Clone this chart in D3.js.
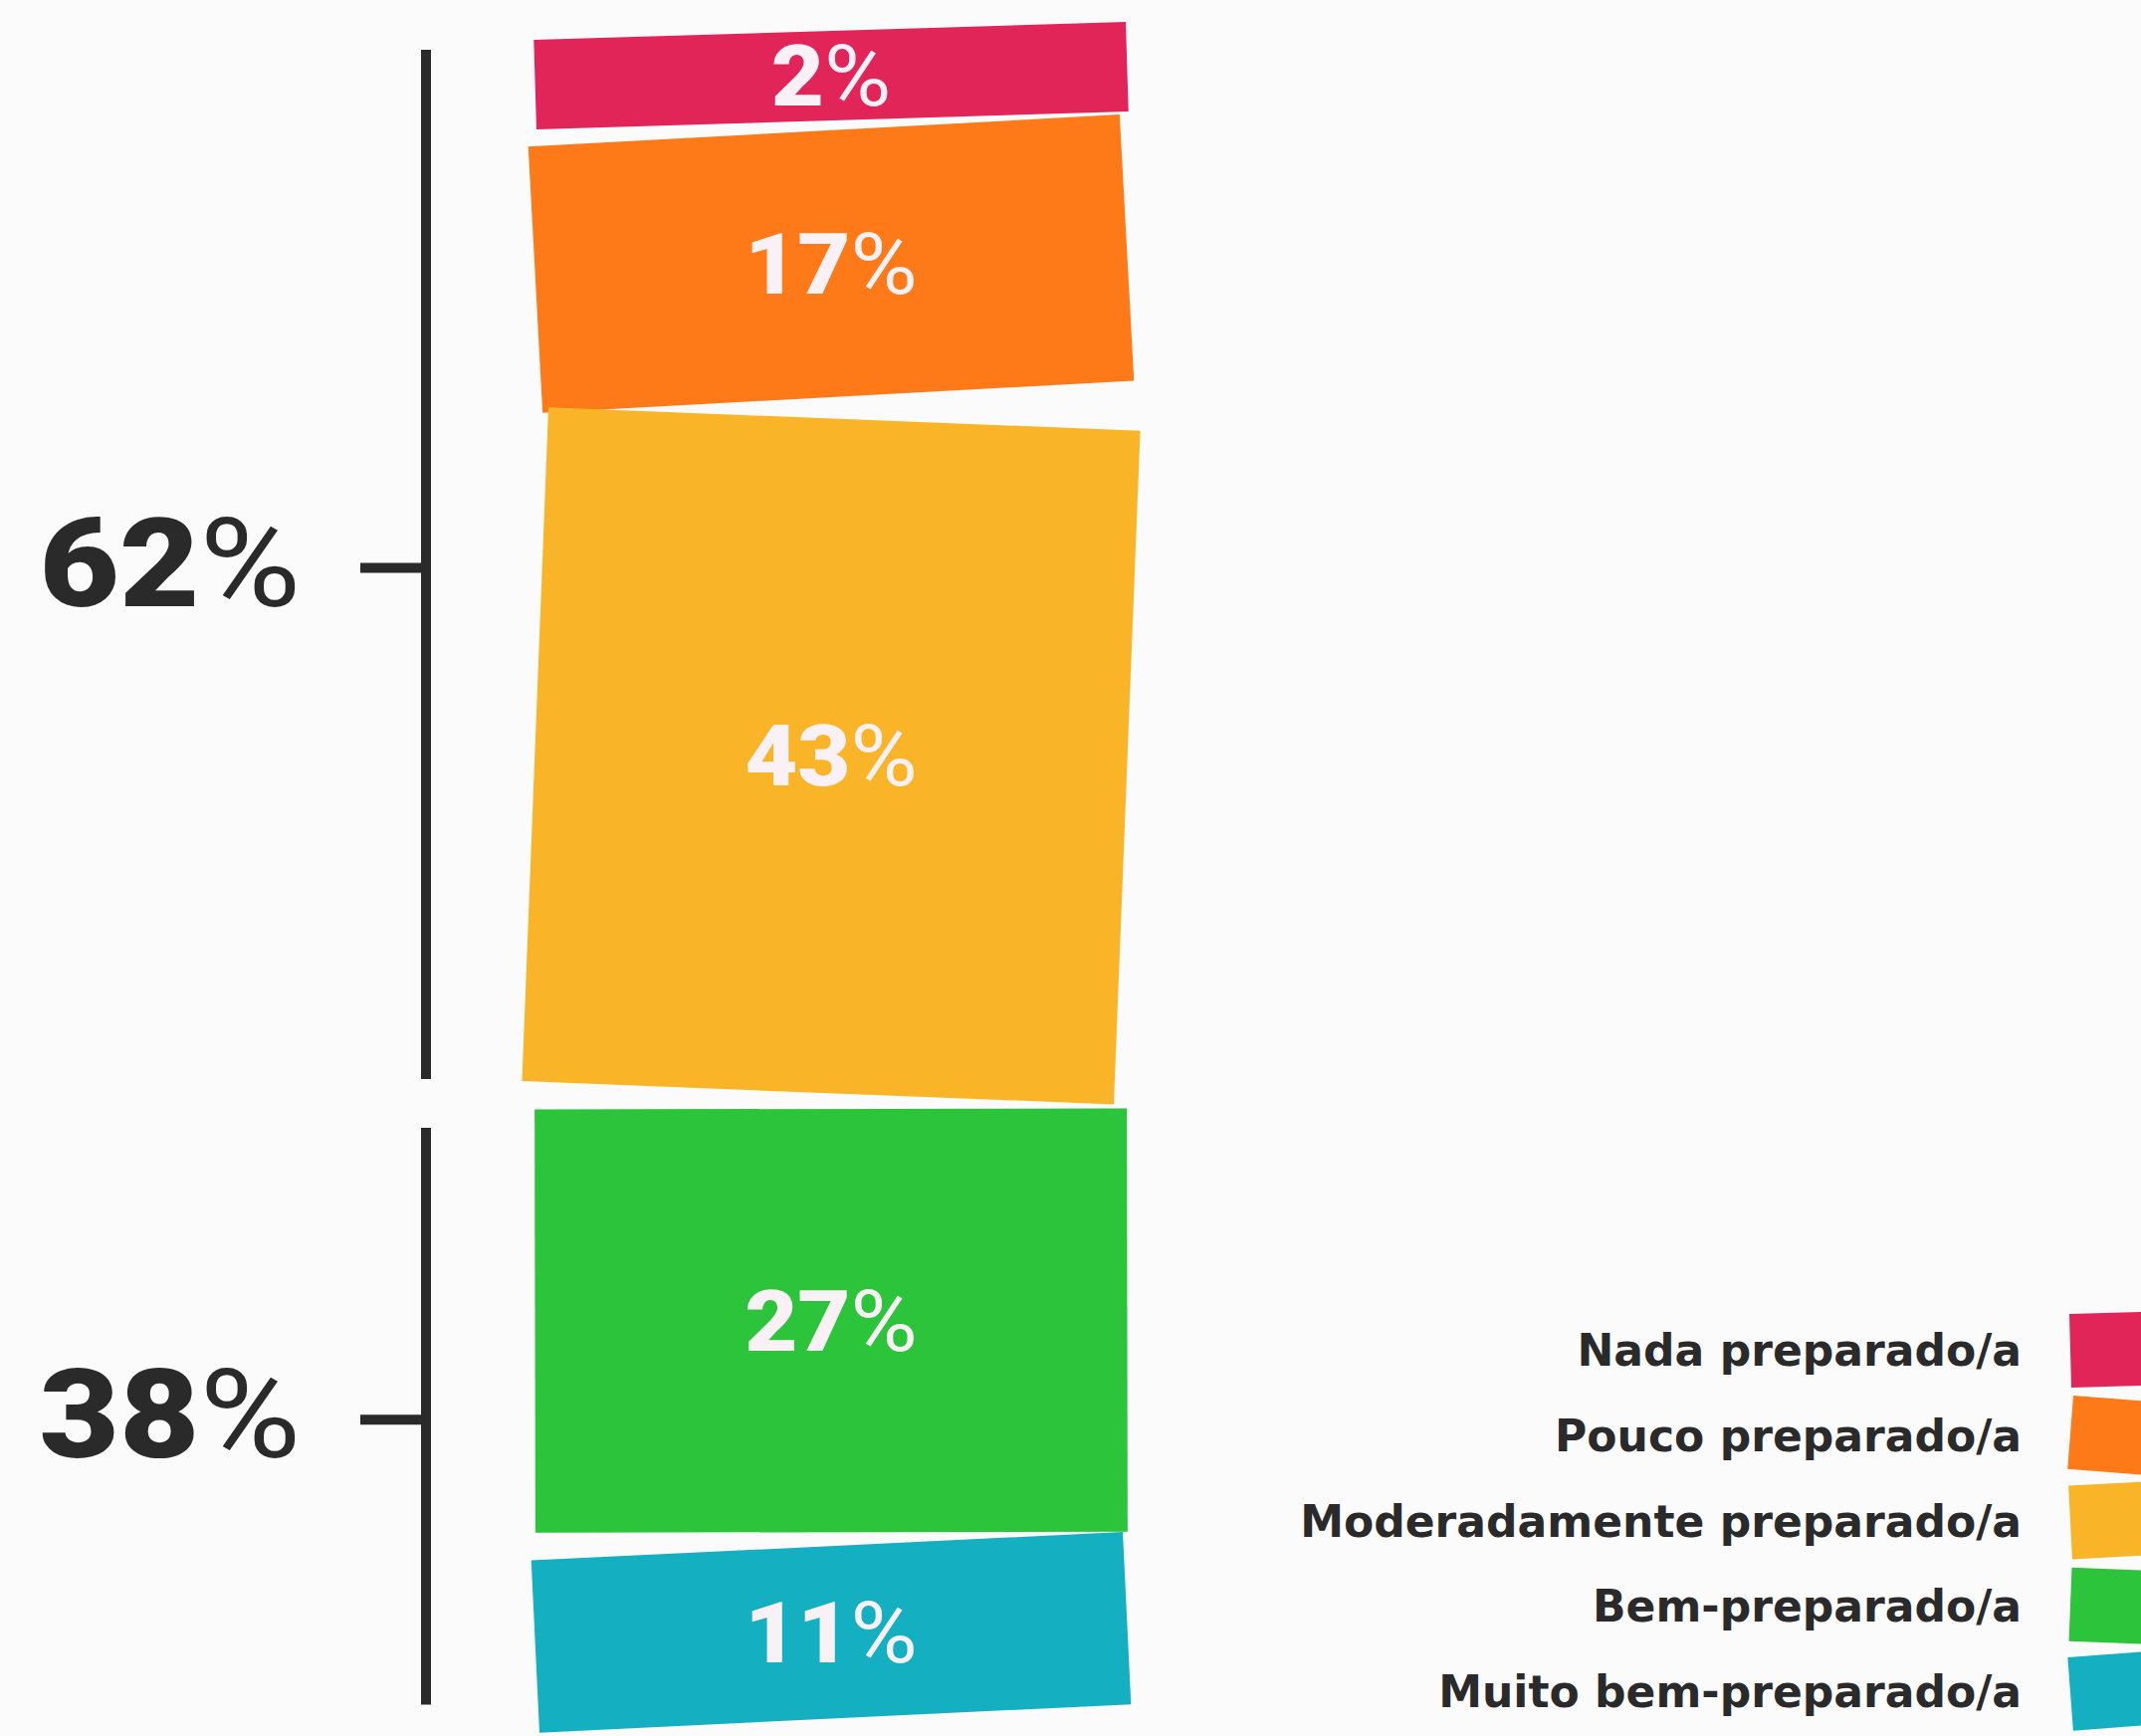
<!DOCTYPE html>
<html lang="pt">

<head>
  <meta charset="UTF-8">
  <title>Preparação</title>
  <style>
    body { margin: 0; background: #fbfbfb; }
  </style>
</head>

<body>
  <svg id="svg" width="2151" height="1744"></svg>

  <script src="https://d3js.org/d3.v7.min.js"></script>
  <script>
    // data
    const categories = ['Nada preparado/a', 'Pouco preparado/a', 'Moderadamente preparado/a', 'Bem-preparado/a', 'Muito bem-preparado/a']
    const values = [2, 17, 43, 27, 11]
    const groupLabels = ['62%', '38%']
    const groupMembers = [[0, 1, 2], [3, 4]]

    // styles
    const colors = ['#e12558', '#fe7a19', '#fab427', '#2bc43a', '#14b0c2']
    const barTilt = [-1.75, -3.1, 2.25, -0.1, -2.75]   // degrees, hand-cut look
    const gapAfter = [10, 22, 16, 14, 0]               // uneven paper-cut spacing
    const swatchTilt = [-1.6, 4.5, -3, 2.3, -4.3]
    const ink = '#2a2a2a'
    const labelColor = '#f9f1f6'
    const font = 'Roboto, "Liberation Sans", sans-serif'
    const legendFont = '"DejaVu Sans", Roboto, sans-serif'

    const svg = d3.select('#svg')
    svg.append('rect').attr('width', 2151).attr('height', 1744).attr('fill', '#fbfbfb')

    const yScale = d3.scaleLinear()
      .domain([0, 100])
      .range([0, 1575])
    const minH = 90
    const stackTop = 31
    const barX = 537.5, barW = 595
    const cx = barX + barW / 2

    // stack the bars
    let cursor = stackTop
    const bars = values.map((v, i) => {
      const h = Math.max(minH, yScale(v))
      const b = { i, v, y0: cursor, y1: cursor + h, h, cy: cursor + h / 2 }
      cursor += h + gapAfter[i]
      return b
    })

    const barG = svg.append('g')
    barG.selectAll('rect')
      .data(bars)
      .enter()
      .append('rect')
      .attr('x', barX)
      .attr('y', d => d.y0)
      .attr('width', barW)
      .attr('height', d => d.h)
      .attr('fill', d => colors[d.i])
      .attr('transform', d => `rotate(${barTilt[d.i]},${cx},${d.cy})`)

    const lab = barG.selectAll('text')
      .data(bars)
      .enter()
      .append('text')
      .attr('text-anchor', 'middle')
      .attr('fill', labelColor)
      .attr('transform', d => `translate(${cx},${d.cy + 30}) scale(1.08,1)`)
      .style('font-family', font)
      .style('font-size', '85px')
    lab.append('tspan').text(d => d.v).style('font-weight', 900)
    lab.append('tspan').text('%').style('font-weight', 400)

    // brackets
    const lineX = 428
    const brG = svg.append('g')
    groupMembers.forEach((m, gi) => {
      const first = bars[m[0]], last = bars[m[m.length - 1]]
      const mid = (first.y0 + last.y1) / 2
      brG.append('line')
        .attr('x1', lineX).attr('x2', lineX)
        .attr('y1', first.y0 + 19).attr('y2', last.y1 - 14)
        .attr('stroke', ink).attr('stroke-width', 10)
      brG.append('line')
        .attr('x1', 362).attr('x2', lineX)
        .attr('y1', mid + 6).attr('y2', mid + 6)
        .attr('stroke', ink).attr('stroke-width', 10)
      const t = brG.append('text')
        .attr('text-anchor', 'end')
        .attr('fill', ink)
        .attr('transform', `translate(302,${mid + 44}) scale(1.11,1)`)
        .style('font-family', font)
        .style('font-size', '125px')
      t.append('tspan').text(groupLabels[gi].replace('%', '')).style('font-weight', 900)
      t.append('tspan').text('%').style('font-weight', 400)
    })

    // legend
    const legX = 2031
    const legY = d3.scaleLinear().domain([0, 4]).range([1372, 1715])
    const legG = svg.append('g')
    const items = legG.selectAll('g')
      .data(categories)
      .enter()
      .append('g')
    items.append('rect')
      .attr('x', 2080)
      .attr('y', (d, i) => legY(i) - 16 - 37)
      .attr('width', 76)
      .attr('height', 74)
      .attr('fill', (d, i) => colors[i])
      .attr('transform', (d, i) => `rotate(${swatchTilt[i]},2118,${legY(i) - 16})`)
    const legText = items.append('text')
      .text(d => d)
      .attr('text-anchor', 'end')
      .attr('fill', ink)
      .style('font-family', legendFont)
      .style('font-weight', 700)
      .style('font-size', '45px')
    // fit the widest entry to the 725px it takes in the print
    const widest = d3.max(legText.nodes(), n => n.getComputedTextLength())
    const sx = 725 / widest
    legText.attr('transform', (d, i) => `translate(${legX},${legY(i)}) scale(${sx},1)`)
  </script>
</body>

</html>
